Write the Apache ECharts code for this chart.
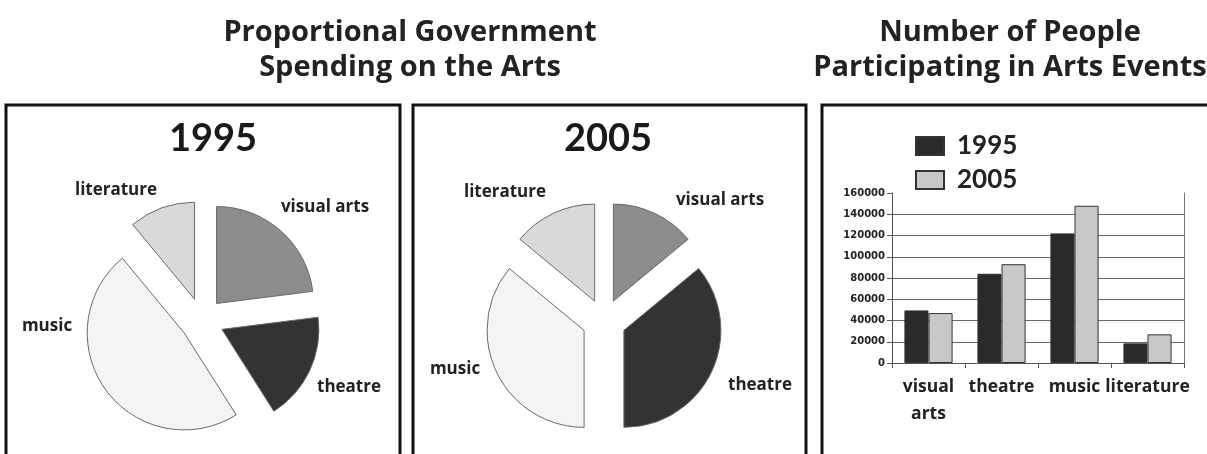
<!DOCTYPE html>
<html>
<head>
<meta charset="utf-8">
<script src="https://cdn.jsdelivr.net/npm/echarts@6/dist/echarts.min.js"></script>
<style>
  html, body { margin: 0; padding: 0; background: #fff; }
  #chart { width: 1207px; height: 454px; }
</style>
</head>
<body>
<div id="chart"></div>
<script>
// data
const pieCategories = ['visual arts', 'theatre', 'music', 'literature'];
const spending1995 = [23, 18, 48, 11];
const spending2005 = [14, 36, 36, 14];

const barCategories = ['visual\narts', 'theatre', 'music', 'literature'];
const people1995 = [49500, 84000, 122000, 18500];
const people2005 = [47000, 93000, 148000, 27000];

const FONT = '"Open Sans", "DejaVu Sans", sans-serif';
const DIGITS = 'Lato, "DejaVu Sans", sans-serif';
const sliceColors = ['#8c8c8c', '#333333', '#f4f4f4', '#d9d9d9'];

// where the slice names sit (pie labels are kept still while slices are pulled out)
const labelSpots1995 = [[325, 207], [349, 387], [47, 326], [116, 190]];
const labelSpots2005 = [[720, 200], [760, 385], [455, 369], [505, 192]];

function pieData(values) {
  return values.map((v, i) => ({
    name: pieCategories[i],
    value: v,
    selected: true,
    itemStyle: { color: sliceColors[i] }
  }));
}

function pieSeries(values, center) {
  return {
    type: 'pie',
    center: center,
    radius: 97,
    startAngle: 90,
    clockwise: true,
    selectedMode: 'multiple',
    selectedOffset: 22,
    silent: true,
    itemStyle: { borderColor: '#6a6a6a', borderWidth: 1 },
    label: { show: false },
    labelLine: { show: false },
    emphasis: { disabled: true },
    data: pieData(values)
  };
}

function sliceLabels(spots) {
  return pieCategories.map((name, i) => ({
    type: 'text',
    x: spots[i][0],
    y: spots[i][1],
    style: {
      text: name,
      fill: '#222',
      font: 'bold 17px ' + FONT,
      align: 'center',
      verticalAlign: 'middle'
    }
  }));
}

function frame(x, w) {
  return {
    type: 'rect',
    shape: { x: x, y: 105, width: w, height: 352 },
    style: { fill: 'none', stroke: '#111', lineWidth: 3 }
  };
}

const chart = echarts.init(document.getElementById('chart'), null, { renderer: 'canvas' });

chart.setOption({
  animation: false,
  backgroundColor: '#fff',
  title: [
    {
      text: 'Proportional Government\nSpending on the Arts',
      left: 405, top: 10, textAlign: 'center',
      textStyle: { fontFamily: FONT, fontWeight: 'bold', fontSize: 29, lineHeight: 35, color: '#222' }
    },
    {
      text: 'Number of People\nParticipating in Arts Events',
      left: 1005, top: 10, textAlign: 'center',
      textStyle: { fontFamily: FONT, fontWeight: 'bold', fontSize: 29, lineHeight: 35, color: '#222' }
    },
    {
      text: '1995', left: 208, top: 115, textAlign: 'center',
      textStyle: { fontFamily: DIGITS, fontWeight: 'bold', fontSize: 38, color: '#1a1a1a' }
    },
    {
      text: '2005', left: 603, top: 115, textAlign: 'center',
      textStyle: { fontFamily: DIGITS, fontWeight: 'bold', fontSize: 38, color: '#1a1a1a' }
    }
  ],
  graphic: [
    frame(6, 394),
    frame(413, 393),
    frame(822, 400)
  ].concat(sliceLabels(labelSpots1995), sliceLabels(labelSpots2005)),
  legend: {
    data: ['1995', '2005'],
    orient: 'vertical',
    left: 915,
    top: 133,
    padding: 0,
    icon: 'rect',
    itemWidth: 28,
    itemHeight: 18,
    itemGap: 8,
    selectedMode: false,
    textStyle: { fontFamily: DIGITS, fontWeight: 'bold', fontSize: 26, lineHeight: 18, color: '#222', padding: [0, 0, 0, 8] }
  },
  grid: { left: 892, right: 23, top: 193, bottom: 91 },
  xAxis: {
    type: 'category',
    data: barCategories,
    axisLine: { lineStyle: { color: '#555' } },
    axisTick: { show: true, length: 5, lineStyle: { color: '#555' } },
    axisLabel: {
      fontFamily: FONT, fontWeight: 'bold', fontSize: 17.5, lineHeight: 27,
      color: '#222', margin: 11, interval: 0
    }
  },
  yAxis: [
    {
      type: 'value',
      min: 0,
      max: 160000,
      interval: 20000,
      axisLine: { show: true, lineStyle: { color: '#555' } },
      axisTick: { show: true, length: 5, lineStyle: { color: '#555' } },
      axisLabel: {
        fontFamily: '"DejaVu Sans", sans-serif', fontWeight: 'bold', fontSize: 10,
        color: '#222', margin: 7,
        formatter: v => String(v)
      },
      splitLine: {
        lineStyle: { color: ['#666', '#666', '#666', '#666', '#666', '#666', '#666', '#666', 'transparent'], width: 1 }
      }
    },
    {
      type: 'value',
      position: 'right',
      min: 0,
      max: 160000,
      interval: 20000,
      axisLine: { show: true, lineStyle: { color: '#777' } },
      axisTick: { show: false },
      axisLabel: { show: false },
      splitLine: { show: false }
    }
  ],
  series: [
    pieSeries(spending1995, [202, 320]),
    pieSeries(spending2005, [604, 321]),
    {
      name: '1995',
      type: 'bar',
      data: people1995,
      barGap: '0%',
      barCategoryGap: '34%',
      itemStyle: { color: '#2a2a2a', borderColor: '#333', borderWidth: 1 },
      silent: true
    },
    {
      name: '2005',
      type: 'bar',
      data: people2005,
      barGap: '0%',
      barCategoryGap: '34%',
      itemStyle: { color: '#c8c8c8', borderColor: '#333', borderWidth: 1 },
      silent: true
    }
  ]
});
</script>
</body>
</html>
